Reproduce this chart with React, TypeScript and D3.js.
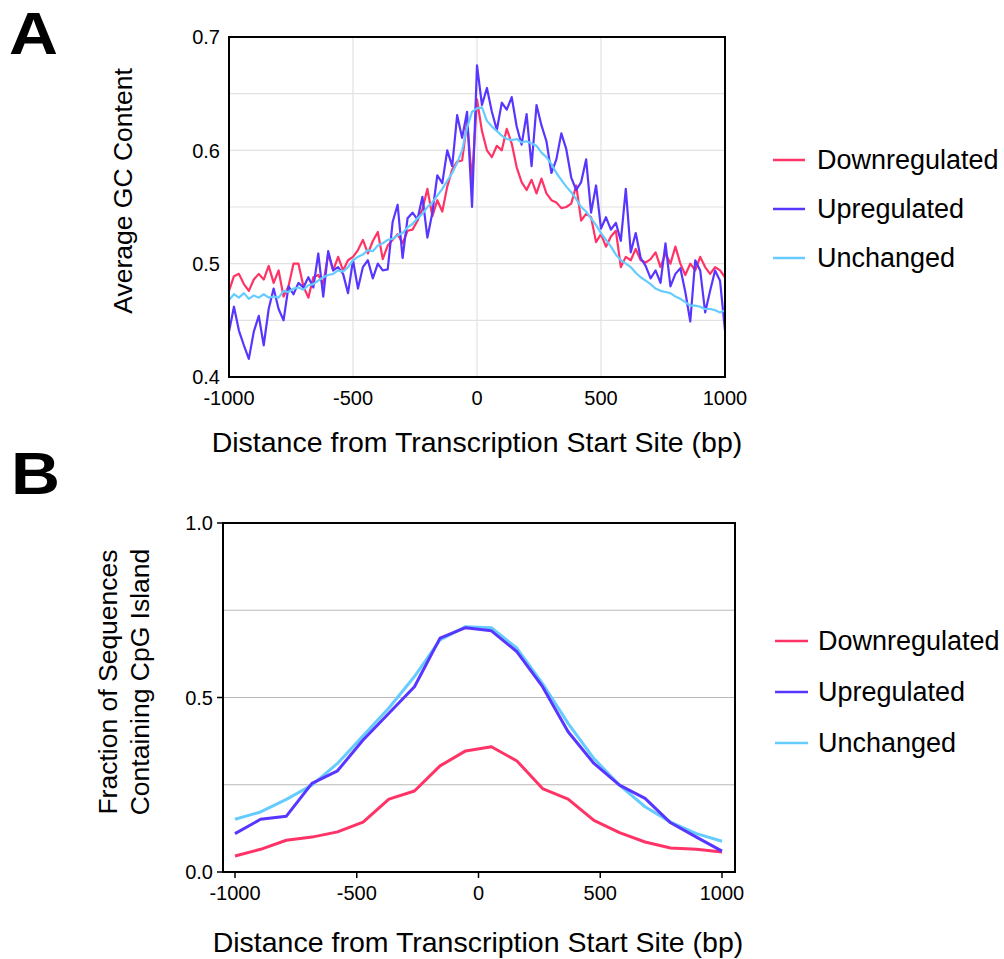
import React, { useRef, useEffect } from 'react';
import * as d3 from 'd3';

// Panel A: average GC content, 20 bp steps from -1000 to 1000
const positionsA = d3.range(-1000, 1001, 20);

const downA = [
  0.476, 0.489, 0.491, 0.482, 0.476, 0.486, 0.491, 0.486, 0.498, 0.483,
  0.494, 0.471, 0.480, 0.500, 0.500, 0.480, 0.470, 0.488, 0.490, 0.482,
  0.509, 0.494, 0.506, 0.494, 0.503, 0.506, 0.512, 0.521, 0.509, 0.520,
  0.528, 0.504, 0.516, 0.521, 0.526, 0.518, 0.529, 0.530, 0.538, 0.548,
  0.566, 0.542, 0.556, 0.546, 0.568, 0.583, 0.590, 0.591, 0.625, 0.574,
  0.645,
  0.617, 0.600, 0.594, 0.604, 0.600, 0.619, 0.606, 0.585, 0.572, 0.565,
  0.574, 0.562, 0.575, 0.562, 0.556, 0.554, 0.549, 0.550, 0.553, 0.569,
  0.538, 0.544, 0.541, 0.519, 0.526, 0.515, 0.524, 0.529, 0.497, 0.506,
  0.503, 0.513, 0.503, 0.501, 0.504, 0.510, 0.497, 0.509, 0.500, 0.515,
  0.500, 0.490, 0.500, 0.494, 0.506, 0.497, 0.491, 0.497, 0.494, 0.488
];

const upA = [
  0.440, 0.462, 0.441, 0.428, 0.416, 0.440, 0.454, 0.428, 0.460, 0.478,
  0.460, 0.450, 0.480, 0.473, 0.483, 0.479, 0.488, 0.479, 0.509, 0.471,
  0.511, 0.494, 0.497, 0.491, 0.474, 0.503, 0.478, 0.497, 0.503, 0.487,
  0.500, 0.494, 0.495, 0.537, 0.552, 0.505, 0.540, 0.545, 0.539, 0.559,
  0.523, 0.545, 0.578, 0.571, 0.600, 0.586, 0.631, 0.611, 0.634, 0.550,
  0.675,
  0.640, 0.655, 0.634, 0.618, 0.642, 0.636, 0.647, 0.621, 0.605, 0.632,
  0.586, 0.640, 0.622, 0.608, 0.580, 0.592, 0.615, 0.601, 0.576, 0.565,
  0.572, 0.592, 0.545, 0.569, 0.531, 0.541, 0.530, 0.536, 0.520, 0.566,
  0.510, 0.527, 0.505, 0.498, 0.487, 0.494, 0.483, 0.518, 0.480, 0.491,
  0.496, 0.475, 0.449, 0.503, 0.494, 0.457, 0.476, 0.494, 0.485, 0.441
];

const unchangedA = [
  0.468, 0.473, 0.470, 0.474, 0.469, 0.472, 0.470, 0.473, 0.470, 0.471,
  0.470, 0.476, 0.475, 0.478, 0.479, 0.477, 0.481, 0.482, 0.485, 0.488,
  0.490, 0.491, 0.494, 0.493, 0.497, 0.503, 0.506, 0.508, 0.512, 0.511,
  0.516, 0.518, 0.521, 0.522, 0.525, 0.527, 0.532, 0.535, 0.540, 0.544,
  0.550, 0.554, 0.560, 0.566, 0.573, 0.580, 0.589, 0.600, 0.620, 0.634,
  0.637,
  0.638, 0.626, 0.621, 0.617, 0.613, 0.610, 0.609, 0.610, 0.607, 0.608,
  0.606, 0.604, 0.598, 0.594, 0.588, 0.580, 0.574, 0.568, 0.563, 0.557,
  0.550, 0.546, 0.540, 0.534, 0.527, 0.521, 0.515, 0.508, 0.503, 0.500,
  0.497, 0.492, 0.488, 0.485, 0.482, 0.478, 0.476, 0.475, 0.474, 0.471,
  0.469, 0.466, 0.463, 0.463, 0.462, 0.460, 0.460, 0.459, 0.457, 0.459
];

// Panel B: fraction of sequences containing a CpG island
const positionsB = [-1000, -895, -789, -684, -579, -474, -368, -263, -158, -53,
  53, 158, 263, 368, 474, 579, 684, 789, 895, 1000];
const downB = [0.046, 0.065, 0.091, 0.100, 0.115, 0.143, 0.209, 0.232, 0.304, 0.347,
  0.359, 0.318, 0.239, 0.209, 0.148, 0.113, 0.086, 0.069, 0.065, 0.057];
const upB = [0.110, 0.151, 0.160, 0.254, 0.290, 0.378, 0.455, 0.531, 0.670, 0.700,
  0.691, 0.631, 0.531, 0.402, 0.311, 0.249, 0.211, 0.141, 0.100, 0.060];
const unchangedB = [0.151, 0.172, 0.208, 0.249, 0.311, 0.390, 0.470, 0.560, 0.665, 0.703,
  0.700, 0.641, 0.540, 0.426, 0.325, 0.249, 0.187, 0.143, 0.110, 0.088];

const xTicks = [-1000, -500, 0, 500, 1000];
const yTicksA = [0.4, 0.5, 0.6, 0.7];
const yGridA = [0.45, 0.5, 0.55, 0.6, 0.65];
const yTicksB = [0, 0.5, 1];
const yGridB = [0.25, 0.5, 0.75];

const seriesNames = ['Downregulated', 'Upregulated', 'Unchanged'];
const colors = { Downregulated: '#ff3366', Upregulated: '#5836ff', Unchanged: '#66ccff' };

const width = 1004;
const height = 959;
const font = '"Liberation Sans", Arial, sans-serif';

function App() {
  const ref = useRef(null);

  useEffect(() => {
    document.body.style.margin = '0';
    const svg = d3.select(ref.current);
    svg.selectAll('*').remove();
    svg.attr('font-family', font);

    // ---------- panel A ----------
    const xA = d3.scaleLinear().domain([-1000, 1000]).range([229, 725]);
    const yA = d3.scaleLinear().domain([0.4, 0.7]).range([377, 37]);

    const gA = svg.append('g');
    gA.selectAll('line.vg').data([-500, 0, 500]).enter().append('line')
      .attr('x1', d => xA(d)).attr('x2', d => xA(d))
      .attr('y1', yA(0.4)).attr('y2', yA(0.7))
      .attr('stroke', '#e2e2e2').attr('stroke-width', 1.2);
    gA.selectAll('line.hg').data(yGridA).enter().append('line')
      .attr('x1', xA(-1000)).attr('x2', xA(1000))
      .attr('y1', d => yA(d)).attr('y2', d => yA(d))
      .attr('stroke', '#e2e2e2').attr('stroke-width', 1.2);

    const lineA = d3.line().x((d, i) => xA(positionsA[i])).y(d => yA(d));
    const dataA = { Downregulated: downA, Upregulated: upA, Unchanged: unchangedA };
    seriesNames.forEach(name => {
      gA.append('path')
        .attr('d', lineA(dataA[name]))
        .attr('fill', 'none')
        .attr('stroke', colors[name])
        .attr('stroke-width', 2.2)
        .attr('stroke-linejoin', 'round');
    });

    gA.append('rect')
      .attr('x', xA(-1000)).attr('y', yA(0.7))
      .attr('width', xA(1000) - xA(-1000)).attr('height', yA(0.4) - yA(0.7))
      .attr('fill', 'none').attr('stroke', '#000').attr('stroke-width', 2);

    gA.selectAll('text.yt').data(yTicksA).enter().append('text')
      .attr('x', 220).attr('y', d => yA(d)).attr('dy', '0.36em')
      .attr('text-anchor', 'end').attr('font-size', 20)
      .text(d => d.toFixed(1));
    gA.selectAll('text.xt').data(xTicks).enter().append('text')
      .attr('x', d => xA(d)).attr('y', 405)
      .attr('text-anchor', 'middle').attr('font-size', 20)
      .text(d => d);

    gA.append('text').attr('x', 477).attr('y', 452)
      .attr('text-anchor', 'middle').attr('font-size', 28.5)
      .text('Distance from Transcription Start Site (bp)');
    gA.append('text').attr('transform', 'translate(132,191) rotate(-90)')
      .attr('text-anchor', 'middle').attr('font-size', 26.5)
      .text('Average GC Content');
    gA.append('text').attr('transform', 'translate(9,54) scale(1.15,1)')
      .attr('font-size', 59).attr('font-weight', 'bold').text('A');

    const legA = [160, 209, 258];
    seriesNames.forEach((name, i) => {
      gA.append('line').attr('x1', 773).attr('x2', 805)
        .attr('y1', legA[i]).attr('y2', legA[i])
        .attr('stroke', colors[name]).attr('stroke-width', 2.5);
      gA.append('text').attr('x', 817).attr('y', legA[i] + 9)
        .attr('font-size', 27).text(name);
    });

    // ---------- panel B ----------
    const xB = d3.scaleLinear().domain([-1000, 1000]).range([235, 722]);
    const yB = d3.scaleLinear().domain([0, 1]).range([872, 523]);
    const gB = svg.append('g');

    gB.selectAll('line.hg').data(yGridB).enter().append('line')
      .attr('x1', 223).attr('x2', 735)
      .attr('y1', d => yB(d)).attr('y2', d => yB(d))
      .attr('stroke', '#b8b8b8').attr('stroke-width', 1.2);

    const lineB = d3.line().x((d, i) => xB(positionsB[i])).y(d => yB(d));
    const dataB = { Downregulated: downB, Upregulated: upB, Unchanged: unchangedB };
    ['Downregulated', 'Unchanged', 'Upregulated'].forEach(name => {
      gB.append('path')
        .attr('d', lineB(dataB[name]))
        .attr('fill', 'none')
        .attr('stroke', colors[name])
        .attr('stroke-width', 3)
        .attr('stroke-linejoin', 'round');
    });

    gB.append('rect')
      .attr('x', 223).attr('y', yB(1))
      .attr('width', 735 - 223).attr('height', yB(0) - yB(1))
      .attr('fill', 'none').attr('stroke', '#000').attr('stroke-width', 2);

    gB.selectAll('line.xtk').data(xTicks).enter().append('line')
      .attr('x1', d => xB(d)).attr('x2', d => xB(d))
      .attr('y1', yB(0)).attr('y2', yB(0) + 6)
      .attr('stroke', '#000').attr('stroke-width', 1.5);
    gB.selectAll('line.ytk').data(yTicksB).enter().append('line')
      .attr('x1', 217).attr('x2', 223)
      .attr('y1', d => yB(d)).attr('y2', d => yB(d))
      .attr('stroke', '#000').attr('stroke-width', 1.5);

    gB.selectAll('text.yt').data(yTicksB).enter().append('text')
      .attr('x', 213).attr('y', d => yB(d)).attr('dy', '0.36em')
      .attr('text-anchor', 'end').attr('font-size', 20)
      .text(d => d.toFixed(1));
    gB.selectAll('text.xt').data(xTicks).enter().append('text')
      .attr('x', d => xB(d)).attr('y', 900)
      .attr('text-anchor', 'middle').attr('font-size', 20)
      .text(d => d);

    gB.append('text').attr('x', 478).attr('y', 952)
      .attr('text-anchor', 'middle').attr('font-size', 28.5)
      .text('Distance from Transcription Start Site (bp)');
    gB.append('text').attr('transform', 'translate(117,682) rotate(-90)')
      .attr('text-anchor', 'middle').attr('font-size', 26.5)
      .text('Fraction of Sequences');
    gB.append('text').attr('transform', 'translate(149,682) rotate(-90)')
      .attr('text-anchor', 'middle').attr('font-size', 26.5)
      .text('Containing CpG Island');
    gB.append('text').attr('transform', 'translate(11,494) scale(1.15,1)')
      .attr('font-size', 59).attr('font-weight', 'bold').text('B');

    const legB = [641, 692, 743];
    seriesNames.forEach((name, i) => {
      gB.append('line').attr('x1', 775).attr('x2', 808)
        .attr('y1', legB[i]).attr('y2', legB[i])
        .attr('stroke', colors[name]).attr('stroke-width', 2.5);
      gB.append('text').attr('x', 818).attr('y', legB[i] + 9)
        .attr('font-size', 27).text(name);
    });
  }, []);

  return (
    <svg ref={ref} width={width} height={height} style={{ display: 'block', background: '#fff' }}></svg>
  );
}

export default App;
